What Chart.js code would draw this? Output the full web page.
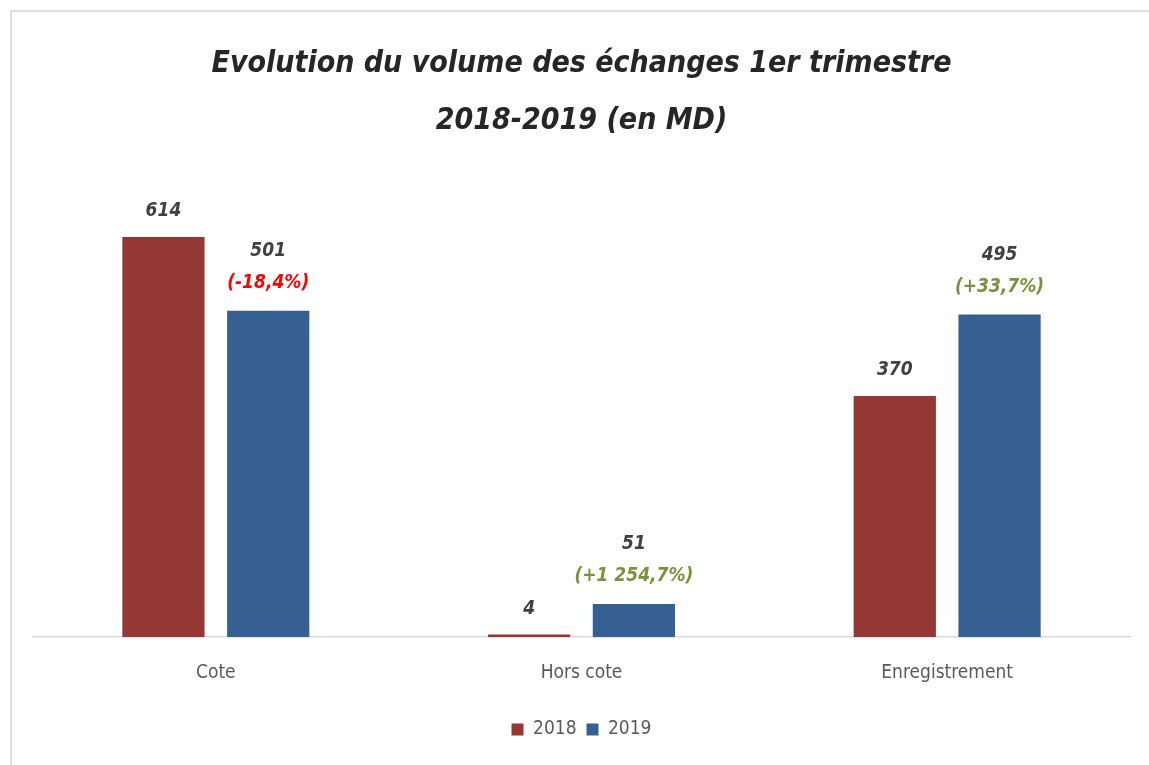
<!DOCTYPE html>
<html>
<head>
<meta charset="utf-8">
<script src="https://cdn.jsdelivr.net/npm/chart.js@4/dist/chart.umd.min.js"></script>
<style>
  html, body { margin: 0; padding: 0; background: #ffffff; overflow: hidden; }
  #wrap { position: relative; width: 1149px; height: 765px; overflow: hidden; }
  #frame { position: absolute; left: 10px; top: 10px; width: 3000px; height: 3000px;
           border-left: 2px solid #dcdcdc; border-top: 2px solid #dcdcdc; pointer-events: none; }
  canvas { position: absolute; left: 0; top: 0; }
</style>
</head>
<body>
<div id="wrap">
  <canvas id="c" width="1149" height="765"></canvas>
  <div id="frame"></div>
</div>
<script>
const FONT = '"Liberation Sans Narrow", "DejaVu Sans Condensed", "Arial Narrow", sans-serif';

const categories = ["Cote", "Hors cote", "Enregistrement"];
const seriesNames = ["2018", "2019"];
const values2018 = [614, 4, 370];
const values2019 = [501, 51, 495];
const changeLabels = ["(-18,4%)", "(+1 254,7%)", "(+33,7%)"];
const changeColors = ["#ff0000", "#77933c", "#77933c"];
const titleLines = ["Evolution du volume des échanges 1er trimestre", "2018-2019 (en MD)"];

const labelPlugin = {
  id: 'barLabels',
  afterDatasetsDraw(chart) {
    const ctx = chart.ctx;
    ctx.save();
    ctx.textAlign = 'center';
    ctx.textBaseline = 'middle';
    const m0 = chart.getDatasetMeta(0);
    const m1 = chart.getDatasetMeta(1);
    ctx.font = 'italic bold 19px ' + FONT;
    m0.data.forEach((bar, i) => {
      ctx.fillStyle = '#404040';
      ctx.fillText(String(values2018[i]), bar.x, bar.y - 26);
    });
    m1.data.forEach((bar, i) => {
      ctx.fillStyle = changeColors[i];
      ctx.fillText(changeLabels[i], bar.x, bar.y - 28);
      ctx.fillStyle = '#404040';
      ctx.fillText(String(values2019[i]), bar.x, bar.y - 60);
    });
    ctx.restore();
  }
};

new Chart(document.getElementById('c'), {
  type: 'bar',
  data: {
    labels: categories,
    datasets: [
      { label: seriesNames[0], data: values2018, backgroundColor: '#953735', borderWidth: 0 },
      { label: seriesNames[1], data: values2019, backgroundColor: '#376092', borderWidth: 0 }
    ]
  },
  options: {
    responsive: false,
    animation: false,
    devicePixelRatio: 1,
    datasets: { bar: { categoryPercentage: 0.573, barPercentage: 0.785 } },
    layout: { padding: { left: 33, right: 19, top: 0, bottom: 16 } },
    scales: {
      x: {
        grid: { display: false },
        border: { display: true, color: '#d9d9d9', width: 1.5 },
        ticks: { color: '#595959', font: { family: FONT, size: 19 }, padding: 16 },
        afterFit(scale) { scale.height += 10; }
      },
      y: { display: false, min: 0, max: 700 }
    },
    plugins: {
      title: {
        display: true,
        text: titleLines,
        color: '#262626',
        font: { family: FONT, size: 30, style: 'italic', weight: 'bold', lineHeight: 1.9 },
        padding: { top: 36, bottom: 31 }
      },
      legend: {
        position: 'bottom',
        labels: { color: '#595959', font: { family: FONT, size: 19 }, boxWidth: 12, boxHeight: 12, padding: 10 }
      },
      tooltip: { enabled: false }
    }
  },
  plugins: [labelPlugin]
});
</script>
</body>
</html>
